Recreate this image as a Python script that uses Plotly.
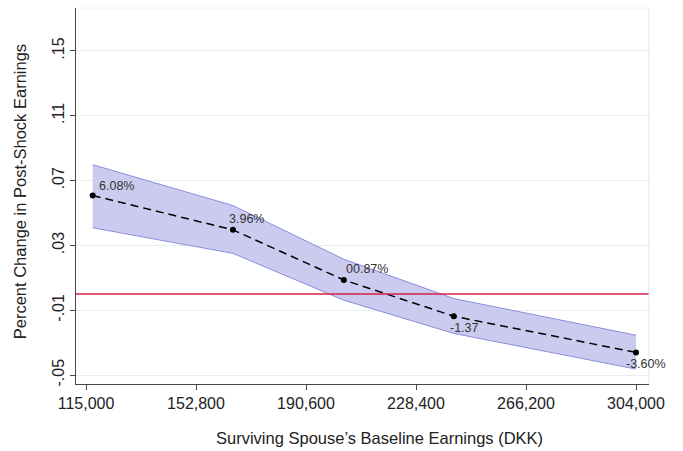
import plotly.graph_objects as go

# Data
earnings = [117300, 165500, 203600, 241400, 304000]
pct_change = [0.0608, 0.0396, 0.0087, -0.0137, -0.0360]
ci_upper = [0.0798, 0.0546, 0.0215, -0.0028, -0.0254]
ci_lower = [0.0409, 0.0251, -0.0038, -0.0243, -0.0463]
point_labels = ["6.08%", "3.96%", "00.87%", "-1.37", "-3.60%"]
x_ticks = [115000, 152800, 190600, 228400, 266200, 304000]
y_ticks = [-0.05, -0.01, 0.03, 0.07, 0.11, 0.15]
y_tick_labels = ["-.05", "-.01", ".03", ".07", ".11", ".15"]
x_title = "Surviving Spouse’s Baseline Earnings (DKK)"
y_title = "Percent Change in Post-Shock Earnings"

# label offsets (pixels) - style only
label_dx = [4, -6, 0, -6, -12]
label_dy = [10, 11, 11, -12, -12]

FONT = "Liberation Sans, Arial, sans-serif"
BAND_LINE = "rgb(140,140,225)"
BAND_FILL = "rgb(203,203,240)"

fig = go.Figure()

fig.add_trace(go.Scatter(x=earnings, y=ci_upper, mode="lines",
                         line=dict(color=BAND_LINE, width=1), showlegend=False,
                         hoverinfo="skip"))
fig.add_trace(go.Scatter(x=earnings, y=ci_lower, mode="lines",
                         line=dict(color=BAND_LINE, width=1), fill="tonexty",
                         fillcolor=BAND_FILL, showlegend=False, hoverinfo="skip"))

fig.add_hline(y=0, line=dict(color="rgb(215,30,70)", width=1.5))

fig.add_trace(go.Scatter(x=earnings, y=pct_change, mode="lines+markers",
                         line=dict(color="black", width=1.5, dash="8px,5px"),
                         marker=dict(color="black", size=6), showlegend=False))

for xv, yv, lab, dx, dy in zip(earnings, pct_change, point_labels, label_dx, label_dy):
    fig.add_annotation(x=xv, y=yv, text=lab, showarrow=False, xanchor="left",
                       yanchor="middle", xshift=dx, yshift=dy,
                       font=dict(family=FONT, size=12.5, color="#333333"))

# axis titles
fig.add_annotation(x=0.5305, y=-0.1436, xref="paper", yref="paper", text=x_title,
                   showarrow=False, xanchor="center", yanchor="middle",
                   font=dict(family=FONT, size=16.5, color="#222222"))
fig.add_annotation(x=-0.0977, y=0.51, xref="paper", yref="paper", text=y_title,
                   showarrow=False, xanchor="center", yanchor="middle", textangle=-90,
                   font=dict(family=FONT, size=16.5, color="#222222"))

fig.update_layout(
    width=683, height=451,
    margin=dict(l=76, r=34, t=8, b=67),
    plot_bgcolor="white", paper_bgcolor="white",
    font=dict(family=FONT, size=16, color="#222222"),
    xaxis=dict(range=[111564, 308467], tickvals=x_ticks, tickformat=",d",
               ticks="outside", ticklen=5, tickcolor="#444444",
               showline=True, linecolor="#444444", linewidth=1.2, mirror=False,
               showgrid=False, zeroline=False,
               tickfont=dict(size=16)),
    yaxis=dict(range=[-0.0555, 0.1765], tickvals=y_ticks, ticktext=y_tick_labels,
               tickangle=-90, ticks="outside", ticklen=5, tickcolor="#444444",
               showline=True, linecolor="#444444", linewidth=1.2,
               showgrid=True, gridcolor="#e6eff0", gridwidth=1, zeroline=False,
               tickfont=dict(size=16)),
)

# right/top light frame
fig.add_shape(type="line", xref="paper", yref="paper", x0=1, x1=1, y0=0, y1=1,
              line=dict(color="#e4e8e8", width=1))
fig.add_shape(type="line", xref="paper", yref="paper", x0=0, x1=1, y0=1, y1=1,
              line=dict(color="#f0f3f3", width=1))

fig.write_html("out.html")
